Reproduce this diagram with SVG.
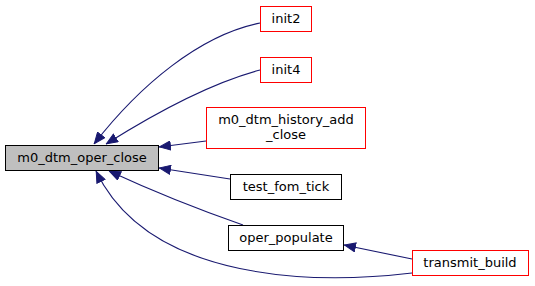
<svg xmlns="http://www.w3.org/2000/svg" width="535" height="286" viewBox="0 0 535 286">
<style>
  .node rect { fill: #ffffff; stroke-width: 1; }
  .red rect { stroke: #ff0000; }
  .black rect { stroke: #000000; }
  .main rect { fill: #bfbfbf; stroke: #000000; }
  text { font-family: "DejaVu Sans", "Liberation Sans", sans-serif; font-size: 13px; fill: #000000; text-anchor: middle; }
  .edge path { fill: none; stroke: #191970; stroke-width: 1.1; }
</style>
<defs>
  <marker id="arr" viewBox="0 0 12 10" refX="12" refY="5" markerWidth="12" markerHeight="10" markerUnits="userSpaceOnUse" orient="auto">
    <path d="M0.5,0.5 L11.5,5 L0.5,9.5 Z" fill="#191970" stroke="#191970"/>
  </marker>
</defs>
<rect width="535" height="286" fill="#ffffff"/>
<g id="edges" class="edge">
  <path d="M260,23 C200,35 140,85 94,144" marker-end="url(#arr)"/>
  <path d="M260,70 C215,82 160,110 106,144" marker-end="url(#arr)"/>
  <path d="M206,141 L159,147" marker-end="url(#arr)"/>
  <path d="M230,179 L159,168" marker-end="url(#arr)"/>
  <path d="M243,225 C200,210 150,190 109,171" marker-end="url(#arr)"/>
  <path d="M412,273 C320,284 150,284 96,171" marker-end="url(#arr)"/>
  <path d="M412,259 L344,245" marker-end="url(#arr)"/>
</g>
<g id="node_main" class="node main">
  <rect x="5.5" y="145.5" width="153" height="25"/>
  <text x="82" y="162">m0_dtm_oper_close</text>
</g>
<g id="node_init2" class="node red">
  <rect x="260.5" y="6.5" width="51" height="25"/>
  <text x="286" y="23">init2</text>
</g>
<g id="node_init4" class="node red">
  <rect x="260.5" y="57.5" width="51" height="25"/>
  <text x="286" y="74">init4</text>
</g>
<g id="node_history" class="node red">
  <rect x="206.5" y="107.5" width="159" height="41"/>
  <text x="286" y="124">m0_dtm_history_add</text>
  <text x="286" y="139">_close</text>
</g>
<g id="node_test_fom_tick" class="node black">
  <rect x="230.5" y="174.5" width="111" height="25"/>
  <text x="286" y="191">test_fom_tick</text>
</g>
<g id="node_oper_populate" class="node black">
  <rect x="228.5" y="225.5" width="115" height="25"/>
  <text x="286" y="242">oper_populate</text>
</g>
<g id="node_transmit_build" class="node red">
  <rect x="412.5" y="250.5" width="116" height="25"/>
  <text x="470" y="267">transmit_build</text>
</g>
</svg>
